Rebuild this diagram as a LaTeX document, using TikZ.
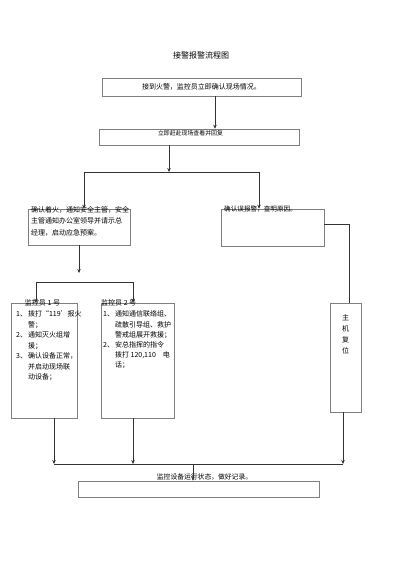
\documentclass[tikz,border=0pt]{standalone}
\usepackage{fontspec}
\setmainfont{Noto Sans CJK SC}
\usetikzlibrary{positioning,arrows.meta}

\begin{document}
\begin{tikzpicture}[
  x=1pt, y=-1pt,
  arrow/.style={-{Stealth[length=4pt,width=3.5pt]}, draw=black!80, line width=0.6pt},
  link/.style={draw=black!80, line width=0.6pt},
  box/.style={draw=black!50, line width=0.6pt, inner sep=0pt},
  txt/.style={inner sep=0pt, font=\fontsize{7}{9}\selectfont}
]
\useasboundingbox (0,0) rectangle (400,566);

%% ── Title ────────────────────────────────────────────────────────────
\node[txt, font=\fontsize{8}{10}\selectfont] (title) at (201,55) {接警报警流程图};

%% ── Alarm received / go and check ───────────────────────────────────
\node[box, txt, minimum width=199, minimum height=18] (fire) at (201.5,87)
    {接到火警，监控员立即确认现场情况。};
\node[box, minimum width=200, minimum height=16] (check) at (199,137) {};
\node[txt, font=\fontsize{5.9}{7}\selectfont] (checktxt) at (190.5,133)
    {立即赶赴现场查看并回复};
\draw[arrow] ([xshift=13.5pt]fire.south) -- ([xshift=16pt]check.north);

%% ── Branch: real fire / false alarm ─────────────────────────────────
\coordinate (ja) at (84,172);
\coordinate (jm) at (169,172);
\coordinate (jb) at (259,172);
\node[box, minimum width=102, minimum height=36] (confirm) at (79,227) {};
\node[txt, anchor=north west, font=\fontsize{7}{11.5}\selectfont] (confirmtxt) at (31,204)
    {\begin{tabular}{@{}l@{}}确认着火，通知安全主管，安全\\主管通知办公室领导并请示总\\经理，启动应急预案。\end{tabular}};
\node[box, minimum width=103, minimum height=37] (false) at (272.5,227.5) {};
\node[txt, anchor=west, font=\fontsize{6.6}{8}\selectfont] (falsetxt) at (224,209.5)
    {确认误报警，查明原因。};
\draw[arrow] ([xshift=-30pt]check.south) -- (jm);
\draw[link] (ja) -- (jb);
\draw[arrow] (ja) -- ([xshift=5pt]confirm.north);
\draw[arrow] (jb) -- ([xshift=-13.5pt]false.north);

%% ── Operators 1 and 2 ───────────────────────────────────────────────
\coordinate (j2) at (79,273);
\coordinate (ka) at (36,282);
\coordinate (kb) at (133,282);
\node[box, minimum width=66, minimum height=115] (mon1) at (44,360.5) {};
\node[box, minimum width=73, minimum height=115] (mon2) at (137.5,360.5) {};
\node[txt] (mon1lbl) at (42.5,303) {监控员 1 号};
\node[txt, anchor=west] (mon2lbl) at (101,303) {监控员 2 号};
\node[txt, anchor=north west, font=\fontsize{7}{10.5}\selectfont] (mon1list) at (16,309.3)
    {\begin{tabular}{@{}l@{\hspace{1pt}}l@{}}
     1、& 拨打“119’报火\\
        & 警；\\
     2、& 通知灭火组增\\
        & 援；\\
     3、& 确认设备正常，\\
        & 并启动现场联\\
        & 动设备；
     \end{tabular}};
\node[txt, anchor=north west, font=\fontsize{7}{10.2}\selectfont] (mon2list) at (103,309.6)
    {\begin{tabular}{@{}l@{\hspace{1pt}}l@{}}
     1、& 通知通信联络组、\\
        & 疏散引导组、救护\\
        & 警戒组展开救援；\\
     2、& 安总指挥的指令\\
        & 拨打 120,110\quad 电\\
        & 话；
     \end{tabular}};
\draw[arrow] (confirm.south) -- (j2);
\draw[link] (ka) -- (kb);
\draw[arrow] (ka) -- ([xshift=-8pt]mon1.north);
\draw[arrow] (kb) -- ([xshift=-4.5pt]mon2.north);

%% ── Host reset ──────────────────────────────────────────────────────
\node[box, minimum width=31, minimum height=109] (host) at (345.5,357.5) {};
\node[txt, anchor=north, font=\fontsize{7}{11}\selectfont] (hosttxt) at (345.5,313)
    {\begin{tabular}{@{}c@{}}主\\机\\复\\位\end{tabular}};
\draw[link] ([yshift=3.5pt]false.east) -| ([xshift=3.5pt]host.north);

%% ── Merge into record box ───────────────────────────────────────────
\coordinate (b1) at (54,464);
\coordinate (b2) at (133,464);
\coordinate (bm) at (193,464);
\coordinate (b3) at (343,464);
\node[box, minimum width=241, minimum height=16] (rec) at (198.5,489) {};
\node[txt, font=\fontsize{6.8}{8}\selectfont] (rectxt) at (204.5,477)
    {监控设备运行状态，做好记录。};
\draw[arrow] ([xshift=10pt]mon1.south) -- (b1);
\draw[arrow] ([xshift=-4.5pt]mon2.south) -- (b2);
\draw[arrow] ([xshift=-2.5pt]host.south) -- (b3);
\draw[link] (b1) -- (b3);
\draw[arrow] (bm) -- ([xshift=-5.5pt]rec.north);

\end{tikzpicture}
\end{document}
